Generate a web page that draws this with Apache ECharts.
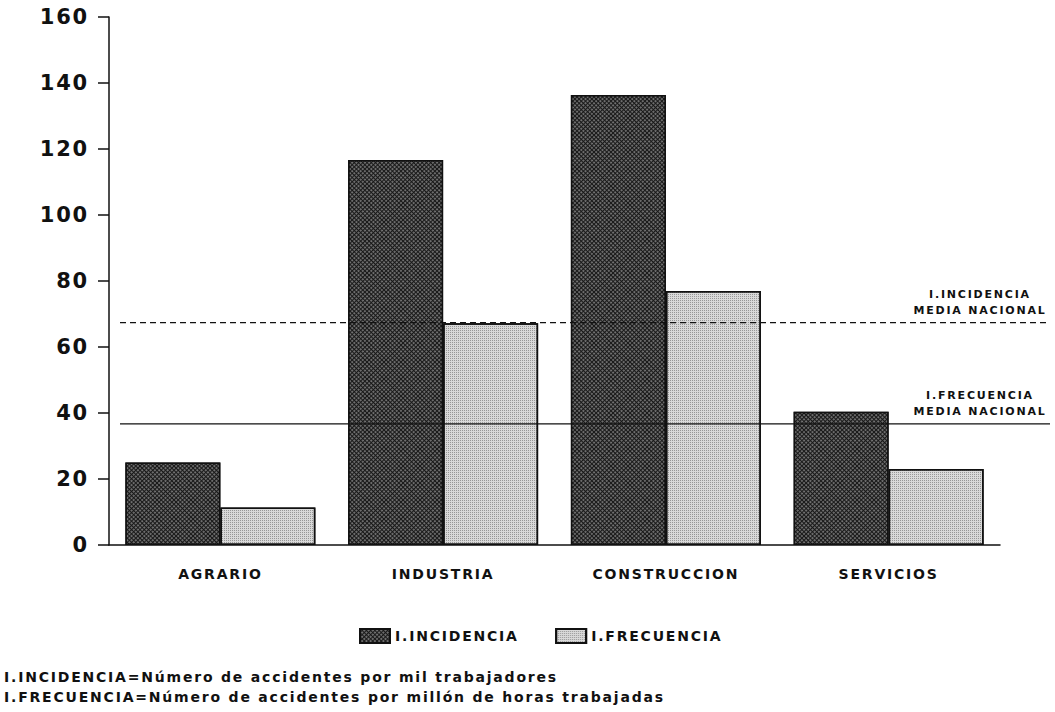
<!DOCTYPE html>
<html>
<head>
<meta charset="utf-8">
<script src="https://cdn.jsdelivr.net/npm/echarts@6/dist/echarts.min.js"></script>
<style>
  body { margin: 0; background: #fff; }
  #chart { width: 1055px; height: 712px; }
  #chart text { letter-spacing: 1.8px; }
</style>
</head>
<body>
<div id="chart"></div>
<script>
const categories = ['AGRARIO', 'INDUSTRIA', 'CONSTRUCCION', 'SERVICIOS']
const incidencia = [25, 116.7, 136.4, 40.4]
const frecuencia = [11.4, 67.2, 77, 23]
const mediaIncidencia = 67.4
const mediaFrecuencia = 36.7
const seriesNames = ['I.INCIDENCIA', 'I.FRECUENCIA']
const refLabels = ['I.INCIDENCIA\nMEDIA NACIONAL', 'I.FRECUENCIA\nMEDIA NACIONAL']
const notes = [
  'I.INCIDENCIA=Número de accidentes por mil trabajadores',
  'I.FRECUENCIA=Número de accidentes por millón de horas trabajadas'
]

const font = 'DejaVu Sans'

// media nacional lines live in a second, wider grid sharing the same y range
const refLine = (name, value, label, type) => ({
  name: name,
  type: 'line',
  xAxisIndex: 1,
  yAxisIndex: 1,
  silent: true,
  symbol: 'circle',
  symbolSize: 1,
  showSymbol: true,
  itemStyle: { color: 'rgba(0,0,0,0)' },
  lineStyle: { color: '#111', width: 1.3, type: type },
  data: [
    [0, value],
    {
      value: [1, value],
      label: {
        show: true,
        position: 'top',
        distance: 4,
        offset: [-70, 0],
        formatter: label,
        align: 'center',
        color: '#111',
        fontFamily: font,
        fontWeight: 'bold',
        fontSize: 11,
        lineHeight: 16
      }
    }
  ]
})

const chart = echarts.init(document.getElementById('chart'), null, { renderer: 'svg' })

chart.setOption({
  animation: false,
  backgroundColor: '#fff',
  grid: [
    { left: 109, right: 55, top: 17, bottom: 167 },
    { left: 120, right: 5, top: 17, bottom: 167 }
  ],
  legend: {
    data: seriesNames,
    icon: 'rect',
    left: 359,
    top: 628,
    padding: 0,
    itemWidth: 30,
    itemHeight: 14,
    itemGap: 58,
    textStyle: { fontFamily: font, fontWeight: 'bold', fontSize: 14, color: '#111' }
  },
  xAxis: [
    {
      type: 'category',
      gridIndex: 0,
      data: categories,
      axisLine: { lineStyle: { color: '#111', width: 1.5 } },
      axisTick: { alignWithLabel: true, length: 10, lineStyle: { color: '#111', width: 1.5 } },
      axisLabel: { margin: 22, fontFamily: font, fontWeight: 'bold', fontSize: 14, color: '#111' }
    },
    { type: 'value', gridIndex: 1, min: 0, max: 1, show: false }
  ],
  yAxis: [
    {
      type: 'value',
      gridIndex: 0,
      min: 0,
      max: 160,
      interval: 20,
      splitLine: { show: false },
      axisLine: { show: true, lineStyle: { color: '#111', width: 1.5 } },
      axisTick: { show: true, length: 11, lineStyle: { color: '#111', width: 1.5 } },
      axisLabel: { margin: 20, fontFamily: font, fontWeight: 'bold', fontSize: 21, color: '#111' }
    },
    { type: 'value', gridIndex: 1, min: 0, max: 160, show: false }
  ],
  series: [
    {
      name: seriesNames[0],
      type: 'bar',
      data: incidencia,
      barWidth: 95,
      barGap: '0%',
      itemStyle: {
        color: '#181818',
        borderColor: '#111',
        borderWidth: 1.5,
        decal: {
          symbol: 'circle',
          symbolSize: 0.9,
          color: 'rgba(255,255,255,0.5)',
          dashArrayX: [2, 1],
          dashArrayY: [2, 1],
          rotation: Math.PI / 4
        }
      }
    },
    {
      name: seriesNames[1],
      type: 'bar',
      data: frecuencia,
      barWidth: 95,
      barGap: '0%',
      itemStyle: {
        color: '#d9d9d9',
        borderColor: '#111',
        borderWidth: 1.5,
        decal: {
          symbol: 'rect',
          symbolSize: 1,
          color: 'rgba(0,0,0,0.3)',
          dashArrayX: [1, 1],
          dashArrayY: [1, 1],
          rotation: 0
        }
      }
    },
    refLine('mediaIncidencia', mediaIncidencia, refLabels[0], [6, 4]),
    refLine('mediaFrecuencia', mediaFrecuencia, refLabels[1], 'solid')
  ],
  graphic: [
    {
      type: 'text',
      left: 4,
      top: 667,
      style: {
        text: notes.join('\n'),
        font: 'bold 14px "DejaVu Sans"',
        lineHeight: 20,
        fill: '#111'
      }
    }
  ]
})
</script>
</body>
</html>
